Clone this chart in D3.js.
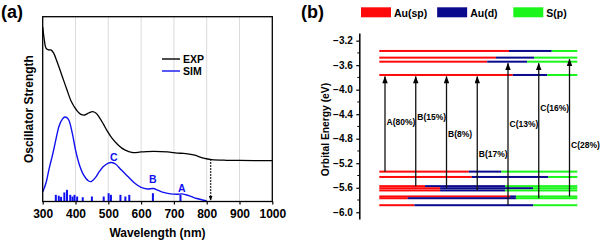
<!DOCTYPE html>
<html>
<head>
<meta charset="utf-8">
<script src="https://cdn.jsdelivr.net/npm/d3@7"></script>
<style>
  body { margin: 0; background: #fff; }
  svg { display: block; font-family: "Liberation Sans", Arial, sans-serif; font-weight: bold; }
</style>
</head>
<body>
<div id="chart"></div>
<script>
// ---- panel (a) data ----
var wavelengthTicks = [300, 400, 500, 600, 700, 800, 900, 1000];
var expNm = [300, 305, 310, 318, 325, 333, 343, 358, 373, 388, 403, 415, 428, 440, 452, 462, 472, 485, 497, 510, 530, 550, 575, 600, 640, 680, 710, 730, 760, 790, 815, 860, 900, 1000];
var expValues = [94.4, 87.4, 83.0, 82.0, 82.0, 80.4, 76.0, 68.5, 60.9, 53.8, 49.5, 47.3, 46.8, 47.9, 48.6, 47.9, 45.7, 41.9, 38.1, 34.6, 30.6, 27.9, 26.5, 26.8, 27.1, 26.8, 26.2, 26.0, 25.2, 23.5, 22.7, 22.3, 22.2, 22.1];
var simNm = [300, 310, 320, 330, 340, 350, 360, 368, 378, 390, 400, 412, 425, 440, 448, 460, 472, 485, 500, 510, 522, 540, 560, 580, 600, 620, 637, 650, 665, 690, 710, 725, 745, 770, 790, 800];
var simValues = [5.1, 10.0, 18.1, 25.2, 33.3, 40.9, 44.6, 45.7, 44.6, 37.1, 27.9, 19.8, 14.3, 11.1, 10.8, 12.8, 16.0, 18.9, 20.8, 21.1, 20.3, 17.0, 13.5, 10.0, 7.6, 6.8, 7.0, 6.2, 5.1, 4.1, 3.9, 4.1, 3.2, 1.6, 0.7, 0.4];
var stickNm = [340, 349, 356, 366, 374, 384, 391, 397, 405, 422, 450, 486, 501, 508, 537, 552, 564, 636, 720];
var stickValues = [3.6, 3.1, 2.5, 4.9, 6.3, 3.6, 2.7, 3.6, 2.7, 2.3, 2.7, 2.7, 4.5, 3.6, 3.6, 2.7, 3.6, 4.5, 3.6];
var peakNames = ["C", "B", "A"];
var peakNm = [517, 636, 724];
var peakLabelValues = [22.1, 10.2, 5.3];
var onsetNm = 812;
var onsetValue = 22.8;
var seriesNames = ["EXP", "SIM"];
var seriesColors = ["#000", "#1010f0"];

// ---- panel (b) data ----
var energyTicks = [-3.2, -3.6, -4.0, -4.4, -4.8, -5.2, -5.6, -6.0];
var energyMinorTicks = [-3.4, -3.8, -4.2, -4.6, -5.0, -5.4, -5.8];
var orbitalNames = ["Au(sp)", "Au(d)", "S(p)"];
var orbitalColors = ["#ff0a0a", "#0a0a8c", "#1cf51c"];
var levelEnergy = [-3.368, -3.477, -3.543, -3.76, -5.337, -5.424, -5.574, -5.608, -5.644, -5.742, -5.771, -5.885];
var levelSp = [0.655, 0.589, 0.545, 0.674, 0.452, 0.467, 0.231, 0.307, 0.307, 0.660, 0.143, 0.177];
var levelD = [0.216, 0.193, 0.202, 0.175, 0.165, 0.387, 0.404, 0.470, 0.328, 0.030, 0.547, 0.601];
var levelP = [0.129, 0.218, 0.253, 0.151, 0.383, 0.146, 0.365, 0.223, 0.365, 0.310, 0.310, 0.222];
var transitionLabels = ["A(80%)", "B(15%)", "B(8%)", "B(17%)", "C(13%)", "C(16%)", "C(28%)"];
var transitionFrom = [-5.337, -5.574, -5.608, -5.644, -5.885, -5.771, -5.742];
var transitionTo = [-3.76, -3.76, -3.76, -3.76, -3.543, -3.543, -3.477];
var transitionLabelE = [-4.521, -4.44, -4.727, -5.048, -4.559, -4.303, -4.901];

var width = 600, height = 244;

var svg = d3.select("#chart").append("svg")
    .attr("width", width)
    .attr("height", height);

var defs = svg.append("defs");
defs.append("marker")
    .attr("id", "head")
    .attr("viewBox", "0 0 8 6")
    .attr("refX", 7.5).attr("refY", 3)
    .attr("markerWidth", 8).attr("markerHeight", 5.5)
    .attr("markerUnits", "userSpaceOnUse")
    .attr("orient", "auto")
    .append("path").attr("d", "M0,0L8,3L0,6Z").attr("fill", "#000");
defs.append("marker")
    .attr("id", "headSmall")
    .attr("viewBox", "0 0 8 6")
    .attr("refX", 7.5).attr("refY", 3)
    .attr("markerWidth", 5).attr("markerHeight", 4.5)
    .attr("markerUnits", "userSpaceOnUse")
    .attr("orient", "auto")
    .append("path").attr("d", "M0,0L8,3L0,6Z").attr("fill", "#000");

drawSpectrum();
drawLevels();

function drawSpectrum() {
    var left = 42.7, right = 272.3, top = 16.7, bottom = 201.5;
    var x = d3.scaleLinear().domain([300, 1000]).range([left, right]);
    var y = d3.scaleLinear().domain([0, 100]).range([bottom, top]);
    var g = svg.append("g");

    g.append("text").attr("x", 1).attr("y", 18).attr("font-size", 18).text("(a)");

    // grid
    g.append("g").selectAll("line")
        .data(wavelengthTicks.slice(1, -1))
        .enter().append("line")
        .attr("x1", function(d) { return x(d); })
        .attr("x2", function(d) { return x(d); })
        .attr("y1", top).attr("y2", bottom)
        .attr("stroke", "#dcdcdc").attr("stroke-width", 1);

    // sticks
    g.append("g").selectAll("rect")
        .data(stickNm)
        .enter().append("rect")
        .attr("x", function(d) { return x(d) - 1; })
        .attr("width", 2)
        .attr("y", function(d, i) { return y(stickValues[i]); })
        .attr("height", function(d, i) { return y(0) - y(stickValues[i]); })
        .attr("fill", seriesColors[1]);

    var line = d3.line()
        .x(function(d) { return x(d[0]); })
        .y(function(d) { return y(d[1]); })
        .curve(d3.curveCatmullRom);

    g.append("path")
        .datum(d3.zip(expNm, expValues))
        .attr("d", line)
        .attr("fill", "none").attr("stroke", seriesColors[0]).attr("stroke-width", 1.3);
    g.append("path")
        .datum(d3.zip(simNm, simValues))
        .attr("d", line)
        .attr("fill", "none").attr("stroke", seriesColors[1]).attr("stroke-width", 1.4);

    // onset arrow
    g.append("line")
        .attr("x1", x(onsetNm)).attr("x2", x(onsetNm))
        .attr("y1", y(onsetValue)).attr("y2", y(0) - 1)
        .attr("stroke", "#000").attr("stroke-width", 1.4)
        .attr("stroke-dasharray", "1.5,1.5")
        .attr("marker-end", "url(#headSmall)");

    // peak labels
    g.append("g").selectAll("text")
        .data(peakNames)
        .enter().append("text")
        .attr("x", function(d, i) { return x(peakNm[i]); })
        .attr("y", function(d, i) { return y(peakLabelValues[i]); })
        .attr("text-anchor", "middle")
        .attr("font-size", 10.5)
        .attr("fill", seriesColors[1])
        .text(function(d) { return d; });

    // frame
    g.append("rect")
        .attr("x", left).attr("y", top)
        .attr("width", right - left).attr("height", bottom - top)
        .attr("fill", "none").attr("stroke", "#000").attr("stroke-width", 1.3);

    var axis = g.append("g")
        .attr("transform", "translate(0," + bottom + ")")
        .call(d3.axisBottom(x).tickValues(wavelengthTicks).tickSize(3).tickSizeOuter(0).tickPadding(5)
            .tickFormat(d3.format("d")));
    axis.select(".domain").remove();
    axis.selectAll("text").attr("font-size", 12).attr("font-family", null).attr("fill", "#000");
    axis.selectAll("line").attr("stroke-width", 1.2);

    g.append("text")
        .attr("x", (left + right) / 2).attr("y", 237)
        .attr("text-anchor", "middle").attr("font-size", 12)
        .text("Wavelength (nm)");
    g.append("text")
        .attr("transform", "translate(33," + (top + bottom) / 2 + ") rotate(-90)")
        .attr("text-anchor", "middle").attr("font-size", 12)
        .text("Oscillator Strength");

    // legend
    var legend = g.append("g").selectAll("g")
        .data(seriesNames)
        .enter().append("g")
        .attr("transform", function(d, i) { return "translate(162," + (59 + i * 12) + ")"; });
    legend.append("line")
        .attr("x1", 0).attr("x2", 18)
        .attr("stroke", function(d, i) { return seriesColors[i]; })
        .attr("stroke-width", 1.4);
    legend.append("text")
        .attr("x", 21).attr("dy", "0.36em")
        .attr("font-size", 10.5)
        .text(function(d) { return d; });
}

function drawLevels() {
    var yB = d3.scaleLinear().domain([-6.11, -3.075]).range([219, 33]);
    var xB = d3.scaleLinear().domain([0, 1]).range([379.3, 577.3]);
    var xArrow = d3.scalePoint().domain(transitionLabels).range([385, 569.5]);
    var xLegend = d3.scalePoint().domain(orbitalNames).range([361, 513.3]);
    var g = svg.append("g");

    g.append("text").attr("x", 301).attr("y", 18).attr("font-size", 18).text("(b)");

    // legend
    var legend = g.append("g").selectAll("g")
        .data(orbitalNames)
        .enter().append("g")
        .attr("transform", function(d) { return "translate(" + xLegend(d) + ",7.3)"; });
    legend.append("rect")
        .attr("width", 30).attr("height", 10)
        .attr("fill", function(d, i) { return orbitalColors[i]; });
    legend.append("text")
        .attr("x", 33).attr("y", 9.3)
        .attr("font-size", 10.5)
        .text(function(d) { return d; });

    // axis
    var axis = g.append("g")
        .attr("transform", "translate(359.3,0)")
        .call(d3.axisLeft(yB).tickValues(energyTicks).tickSize(3).tickSizeOuter(0).tickPadding(3.5)
            .tickFormat(d3.format(".1f")));
    axis.select(".domain").attr("stroke-width", 1.5);
    axis.selectAll("text").attr("font-size", 10).attr("font-family", null).attr("fill", "#000");
    axis.selectAll(".tick line").attr("stroke-width", 1.2);
    g.append("g").selectAll("line")
        .data(energyMinorTicks)
        .enter().append("line")
        .attr("x1", 357.3).attr("x2", 359.3)
        .attr("y1", function(d) { return yB(d); })
        .attr("y2", function(d) { return yB(d); })
        .attr("stroke", "#000").attr("stroke-width", 1);

    g.append("text")
        .attr("transform", "translate(329," + yB(-4.65) + ") rotate(-90)")
        .attr("text-anchor", "middle").attr("font-size", 10.3)
        .text("Orbital Energy (eV)");

    // orbital levels, stacked by contribution
    var levels = g.append("g").selectAll("g")
        .data(levelEnergy)
        .enter().append("g");
    levels.each(function(e, i) {
        var parts = [levelSp[i], levelD[i], levelP[i]];
        var start = 0;
        var sel = d3.select(this);
        parts.forEach(function(p, k) {
            sel.append("rect")
                .attr("x", xB(start))
                .attr("width", xB(start + p) - xB(start))
                .attr("y", yB(e) - 1)
                .attr("height", 2)
                .attr("fill", orbitalColors[k]);
            start += p;
        });
    });

    // transitions
    g.append("g").selectAll("line")
        .data(transitionLabels)
        .enter().append("line")
        .attr("x1", function(d) { return xArrow(d); })
        .attr("x2", function(d) { return xArrow(d); })
        .attr("y1", function(d, i) { return yB(transitionFrom[i]); })
        .attr("y2", function(d, i) { return yB(transitionTo[i]) + 1.5; })
        .attr("stroke", "#111").attr("stroke-width", 1.3)
        .attr("marker-end", "url(#head)");

    g.append("g").selectAll("text")
        .data(transitionLabels)
        .enter().append("text")
        .attr("x", function(d) { return xArrow(d) + 1.5; })
        .attr("y", function(d, i) { return yB(transitionLabelE[i]); })
        .attr("dy", "0.35em")
        .attr("font-size", 8.5)
        .text(function(d) { return d; });
}
</script>
</body>
</html>
